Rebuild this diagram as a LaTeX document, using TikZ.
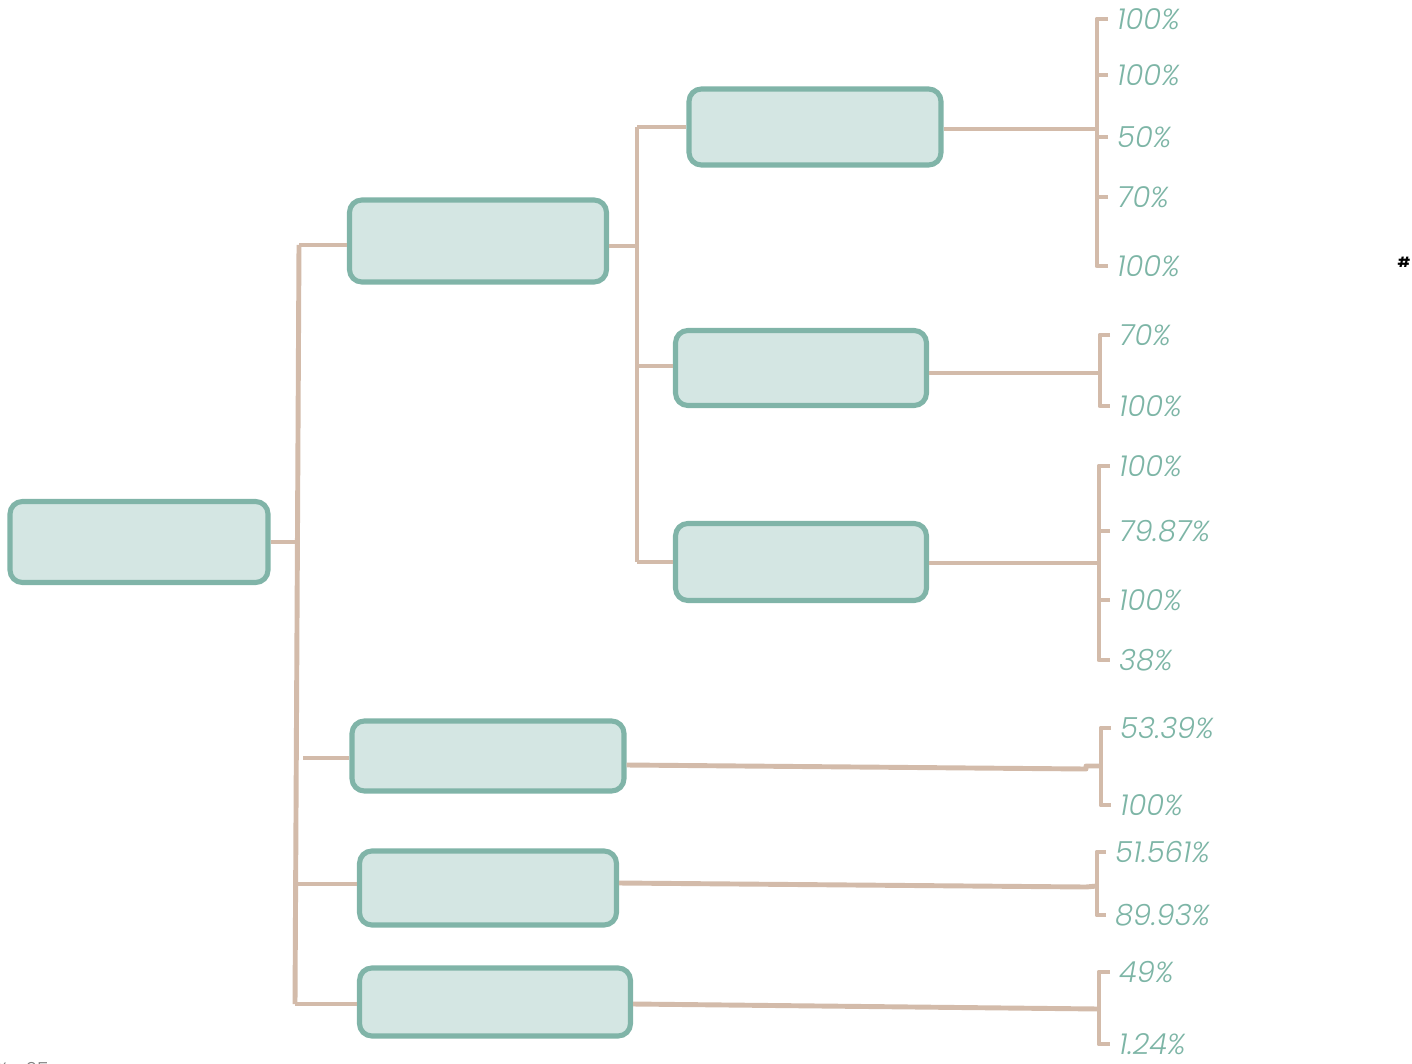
\documentclass[tikz,border=0pt]{standalone}
\usepackage{fontspec}
\newfontfamily\pctfont{Poppins}[UprightFont=* Light, ItalicFont=* Light Italic]
\newfontfamily\markfont{Poppins}
\usetikzlibrary{positioning,calc}
\definecolor{boxedge}{RGB}{128,180,168}
\definecolor{boxfill}{RGB}{212,230,227}
\definecolor{stem}{RGB}{211,187,170}
\definecolor{pcttext}{RGB}{125,181,166}

\begin{document}
\begin{tikzpicture}[
  x=0.02cm, y=-0.02cm,
  box/.style={draw=boxedge, fill=boxfill, line width=2.9pt, rounded corners=7pt,
              inner sep=0pt},
  conn/.style={draw=stem, line width=2.8pt, line join=round},
  pct/.style={anchor=west, inner xsep=5pt, inner ysep=0pt, text=pcttext,
              font=\pctfont\itshape\fontsize{16.5}{16.5}\selectfont}]
\useasboundingbox (0,0) rectangle (1412,1064);
% boxes
\node[box, minimum width=5.16cm, minimum height=1.62cm] (root) at (139,542) {};
\node[box, minimum width=5.14cm, minimum height=1.64cm] (A) at (478,241) {};
\node[box, minimum width=5.04cm, minimum height=1.52cm] (A1) at (815,127) {};
\node[box, minimum width=5.02cm, minimum height=1.50cm] (A2) at (801,368) {};
\node[box, minimum width=5.02cm, minimum height=1.54cm] (A3) at (801,562) {};
\node[box, minimum width=5.44cm, minimum height=1.40cm] (B) at (488,756) {};
\node[box, minimum width=5.14cm, minimum height=1.48cm] (C) at (488,888) {};
\node[box, minimum width=5.42cm, minimum height=1.36cm] (D) at (495,1002) {};
% main trunk
\coordinate (j0) at (297,542);
\coordinate (jt) at (299,245);
\coordinate (jb) at (295,1004);
\draw[conn] (root.east) -- (j0);
\draw[conn] (jt) -- (jb);
\draw[conn] (jt) -- (A.west |- jt);
\draw[conn] (303,758) coordinate (jB) -- (B.west |- jB);
\draw[conn] (298,884) coordinate (jC) -- (C.west |- jC);
\draw[conn] (jb) -- (D.west |- jb);
% second trunk
\coordinate (s0) at (637,246);
\coordinate (st) at (637,127);
\coordinate (sb) at (637,562);
\draw[conn] (A.east |- s0) -- (s0);
\draw[conn] (st) -- (sb);
\draw[conn] (st) -- (A1.west |- st);
\draw[conn] (637,366) coordinate (sA2) -- (A2.west |- sA2);
\draw[conn] (sb) -- (A3.west |- sb);
% percentages
\node[pct] (p11) at (1108,19) {100\%};
\node[pct] (p12) at (1108,75) {100\%};
\node[pct] (p13) at (1108,137) {50\%};
\node[pct] (p14) at (1108,197) {70\%};
\node[pct] (p15) at (1108,266) {100\%};
\node[pct] (p21) at (1110,335) {70\%};
\node[pct] (p22) at (1110,406) {100\%};
\node[pct] (p31) at (1110,466) {100\%};
\node[pct] (p32) at (1110,531) {79.87\%};
\node[pct] (p33) at (1110,600) {100\%};
\node[pct] (p34) at (1110,660) {38\%};
\node[pct] (p41) at (1111,728) {53.39\%};
\node[pct] (p42) at (1111,805) {100\%};
\node[pct] (p51) at (1106,852) {51.561\%};
\node[pct] (p52) at (1106,915) {89.93\%};
\node[pct] (p61) at (1110,972) {49\%};
\node[pct] (p62) at (1110,1044) {1.24\%};
% brackets
\coordinate (k1) at (1097,129);
\draw[conn] (A1.east |- k1) -- (k1);
\draw[conn] (p11.west) -| (k1) |- (p15.west);
\draw[conn] (p12.west) -- (k1 |- p12.west);
\draw[conn] (p13.west) -- (k1 |- p13.west);
\draw[conn] (p14.west) -- (k1 |- p14.west);
\coordinate (k2) at (1100,373);
\draw[conn] (A2.east |- k2) -- (k2);
\draw[conn] (p21.west) -| (k2) |- (p22.west);
\coordinate (k3) at (1099,563);
\draw[conn] (A3.east |- k3) -- (k3);
\draw[conn] (p31.west) -| (k3) |- (p34.west);
\draw[conn] (p32.west) -- (k3 |- p32.west);
\draw[conn] (p33.west) -- (k3 |- p33.west);
\coordinate (k4) at (1101,766);
\draw[conn] ($(B.east)+(0,9)$) -- (1086,769) -- (1086,766) -- (k4);
\draw[conn] (p41.west) -| (k4) |- (p42.west);
\coordinate (k5) at (1097,886);
\draw[conn] ($(C.east)+(0,-5)$) -- (1086,887) -- (k5);
\draw[conn] (p51.west) -| (k5) |- (p52.west);
\coordinate (k6) at (1099,1009);
\draw[conn] ($(D.east)+(0,2)$) -- (k6);
\draw[conn] (p61.west) -| (k6) |- (p62.west);
% stray marks
\node[font=\markfont\bfseries\fontsize{8}{8}\selectfont] (hash) at (1404,262) {\#};
\node[anchor=west, text=gray, inner sep=0pt,
      font=\pctfont\fontsize{11}{11}\selectfont] (note) at (-6,1070) {\%\hspace{10pt}25};
\end{tikzpicture}
\end{document}
